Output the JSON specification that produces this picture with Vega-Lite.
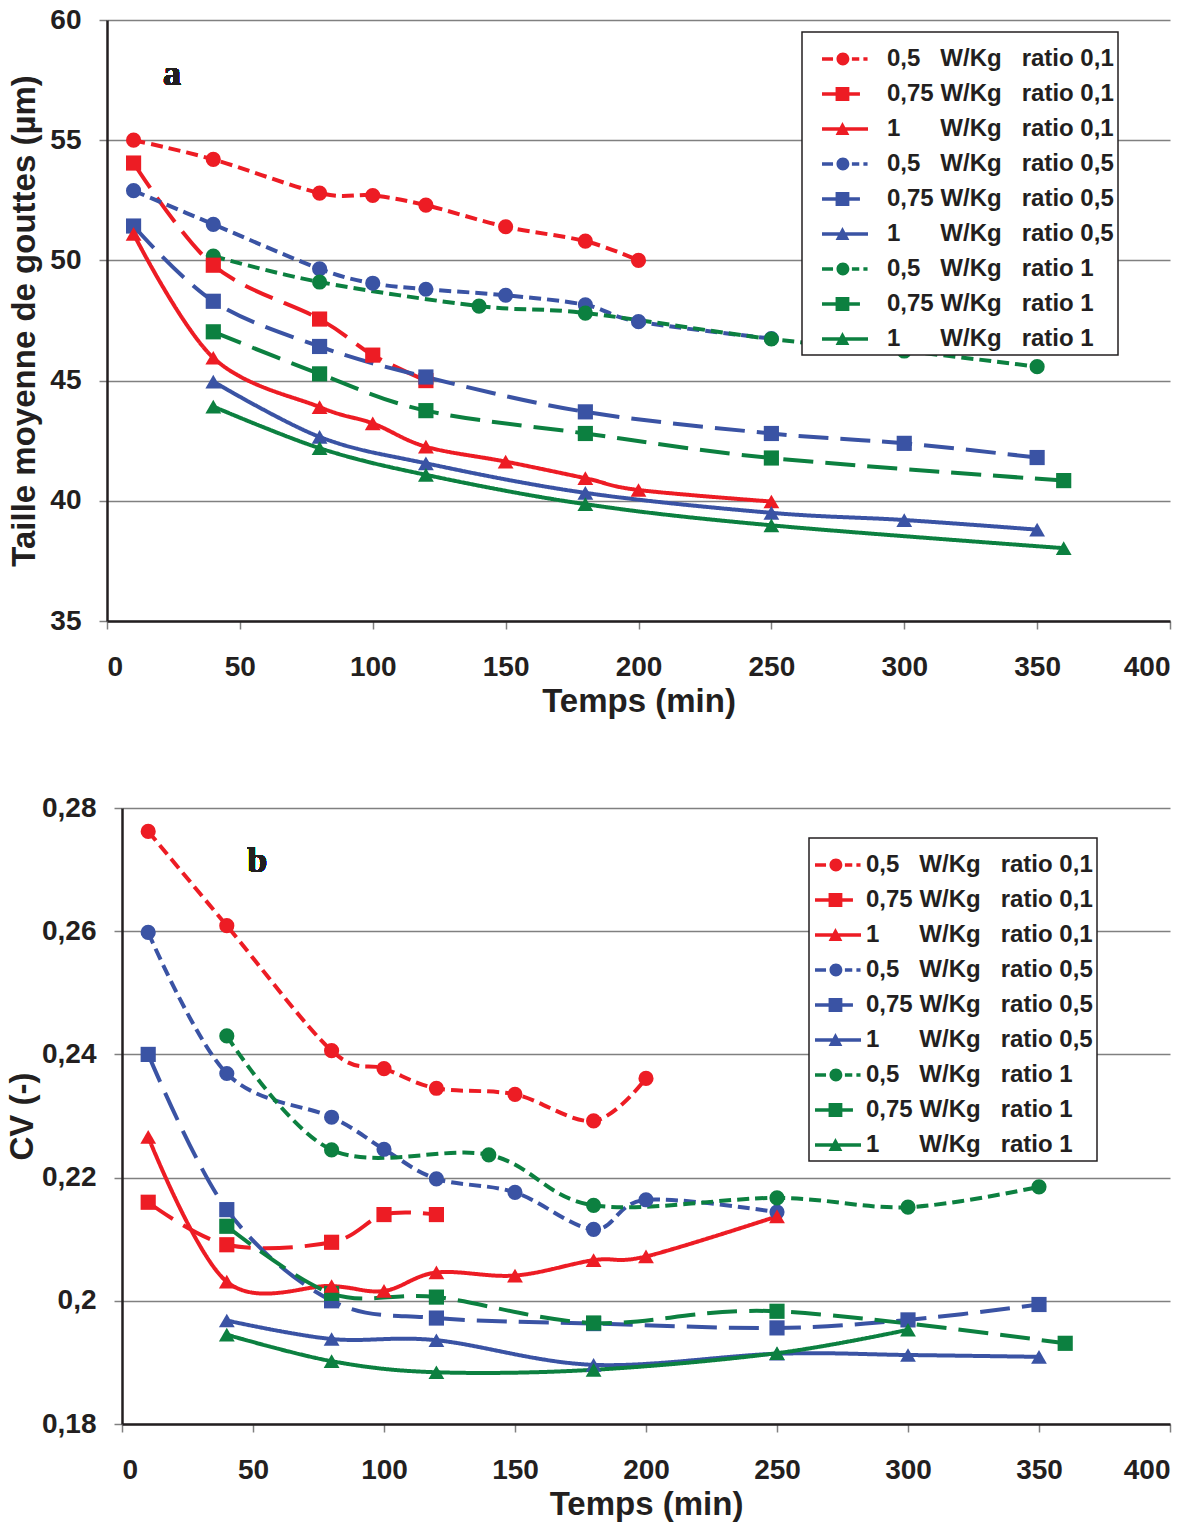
{
  "$schema": "https://vega.github.io/schema/vega-lite/v6.json",
  "background": "white",
  "padding": {"left": 6, "top": 6, "right": 12, "bottom": 4},
  "columns": 1,
  "spacing": 76,
  "resolve": {"scale": {"color": "independent", "strokeDash": "independent"}, "legend": {"color": "independent", "strokeDash": "independent"}},
  "config": {
    "view": {"stroke": null},
    "axis": {
      "labelFont": "Liberation Sans", "labelFontWeight": "bold", "labelFontSize": 28, "labelColor": "#231f20",
      "titleFont": "Liberation Sans", "titleFontWeight": "bold", "titleFontSize": 33, "titleColor": "#231f20",
      "domainColor": "#231f20", "domainWidth": 2.5,
      "tickColor": "#808080", "tickWidth": 1.5, "tickSize": 8,
      "gridColor": "#808080", "gridWidth": 1.5
    },
    "axisX": {"grid": false, "labelPadding": 24, "titlePadding": 4},
    "axisY": {"grid": true, "labelPadding": 18}
  },
  "datasets": {
    "a": [
      {"s": "0,5 W/Kg ratio 0,1", "t": 10, "v": 55.0}, {"s": "0,5 W/Kg ratio 0,1", "t": 40, "v": 54.2}, {"s": "0,5 W/Kg ratio 0,1", "t": 80, "v": 52.8}, {"s": "0,5 W/Kg ratio 0,1", "t": 100, "v": 52.7}, {"s": "0,5 W/Kg ratio 0,1", "t": 120, "v": 52.3}, {"s": "0,5 W/Kg ratio 0,1", "t": 150, "v": 51.4}, {"s": "0,5 W/Kg ratio 0,1", "t": 180, "v": 50.8}, {"s": "0,5 W/Kg ratio 0,1", "t": 200, "v": 50.0},
      {"s": "0,75 W/Kg ratio 0,1", "t": 10, "v": 54.05}, {"s": "0,75 W/Kg ratio 0,1", "t": 40, "v": 49.8}, {"s": "0,75 W/Kg ratio 0,1", "t": 80, "v": 47.56}, {"s": "0,75 W/Kg ratio 0,1", "t": 100, "v": 46.06}, {"s": "0,75 W/Kg ratio 0,1", "t": 120, "v": 45.0},
      {"s": "1 W/Kg ratio 0,1", "t": 10, "v": 51.1}, {"s": "1 W/Kg ratio 0,1", "t": 40, "v": 45.95}, {"s": "1 W/Kg ratio 0,1", "t": 80, "v": 43.9}, {"s": "1 W/Kg ratio 0,1", "t": 100, "v": 43.22}, {"s": "1 W/Kg ratio 0,1", "t": 120, "v": 42.25}, {"s": "1 W/Kg ratio 0,1", "t": 150, "v": 41.63}, {"s": "1 W/Kg ratio 0,1", "t": 180, "v": 40.94}, {"s": "1 W/Kg ratio 0,1", "t": 200, "v": 40.45}, {"s": "1 W/Kg ratio 0,1", "t": 250, "v": 39.97},
      {"s": "0,5 W/Kg ratio 0,5", "t": 10, "v": 52.9}, {"s": "0,5 W/Kg ratio 0,5", "t": 40, "v": 51.5}, {"s": "0,5 W/Kg ratio 0,5", "t": 80, "v": 49.65}, {"s": "0,5 W/Kg ratio 0,5", "t": 100, "v": 49.05}, {"s": "0,5 W/Kg ratio 0,5", "t": 120, "v": 48.8}, {"s": "0,5 W/Kg ratio 0,5", "t": 150, "v": 48.55}, {"s": "0,5 W/Kg ratio 0,5", "t": 180, "v": 48.15}, {"s": "0,5 W/Kg ratio 0,5", "t": 200, "v": 47.45}, {"s": "0,5 W/Kg ratio 0,5", "t": 250, "v": 46.75},
      {"s": "0,75 W/Kg ratio 0,5", "t": 10, "v": 51.43}, {"s": "0,75 W/Kg ratio 0,5", "t": 40, "v": 48.3}, {"s": "0,75 W/Kg ratio 0,5", "t": 80, "v": 46.42}, {"s": "0,75 W/Kg ratio 0,5", "t": 120, "v": 45.15}, {"s": "0,75 W/Kg ratio 0,5", "t": 180, "v": 43.7}, {"s": "0,75 W/Kg ratio 0,5", "t": 250, "v": 42.8}, {"s": "0,75 W/Kg ratio 0,5", "t": 300, "v": 42.39}, {"s": "0,75 W/Kg ratio 0,5", "t": 350, "v": 41.8},
      {"s": "1 W/Kg ratio 0,5", "t": 40, "v": 44.96}, {"s": "1 W/Kg ratio 0,5", "t": 80, "v": 42.66}, {"s": "1 W/Kg ratio 0,5", "t": 120, "v": 41.56}, {"s": "1 W/Kg ratio 0,5", "t": 180, "v": 40.33}, {"s": "1 W/Kg ratio 0,5", "t": 250, "v": 39.5}, {"s": "1 W/Kg ratio 0,5", "t": 300, "v": 39.2}, {"s": "1 W/Kg ratio 0,5", "t": 350, "v": 38.8},
      {"s": "0,5 W/Kg ratio 1", "t": 40, "v": 50.18}, {"s": "0,5 W/Kg ratio 1", "t": 80, "v": 49.1}, {"s": "0,5 W/Kg ratio 1", "t": 140, "v": 48.1}, {"s": "0,5 W/Kg ratio 1", "t": 180, "v": 47.81}, {"s": "0,5 W/Kg ratio 1", "t": 250, "v": 46.73}, {"s": "0,5 W/Kg ratio 1", "t": 300, "v": 46.23}, {"s": "0,5 W/Kg ratio 1", "t": 350, "v": 45.58},
      {"s": "0,75 W/Kg ratio 1", "t": 40, "v": 47.03}, {"s": "0,75 W/Kg ratio 1", "t": 80, "v": 45.28}, {"s": "0,75 W/Kg ratio 1", "t": 120, "v": 43.75}, {"s": "0,75 W/Kg ratio 1", "t": 180, "v": 42.8}, {"s": "0,75 W/Kg ratio 1", "t": 250, "v": 41.78}, {"s": "0,75 W/Kg ratio 1", "t": 360, "v": 40.84},
      {"s": "1 W/Kg ratio 1", "t": 40, "v": 43.92}, {"s": "1 W/Kg ratio 1", "t": 80, "v": 42.19}, {"s": "1 W/Kg ratio 1", "t": 120, "v": 41.08}, {"s": "1 W/Kg ratio 1", "t": 180, "v": 39.86}, {"s": "1 W/Kg ratio 1", "t": 250, "v": 38.98}, {"s": "1 W/Kg ratio 1", "t": 360, "v": 38.03}
    ],
    "b": [
      {"s": "0,5 W/Kg ratio 0,1", "t": 10, "v": 0.2762}, {"s": "0,5 W/Kg ratio 0,1", "t": 40, "v": 0.2609}, {"s": "0,5 W/Kg ratio 0,1", "t": 80, "v": 0.2406}, {"s": "0,5 W/Kg ratio 0,1", "t": 100, "v": 0.2377}, {"s": "0,5 W/Kg ratio 0,1", "t": 120, "v": 0.2345}, {"s": "0,5 W/Kg ratio 0,1", "t": 150, "v": 0.2335}, {"s": "0,5 W/Kg ratio 0,1", "t": 180, "v": 0.2292}, {"s": "0,5 W/Kg ratio 0,1", "t": 200, "v": 0.2361},
      {"s": "0,75 W/Kg ratio 0,1", "t": 10, "v": 0.2160}, {"s": "0,75 W/Kg ratio 0,1", "t": 40, "v": 0.2091}, {"s": "0,75 W/Kg ratio 0,1", "t": 80, "v": 0.2095}, {"s": "0,75 W/Kg ratio 0,1", "t": 100, "v": 0.2140}, {"s": "0,75 W/Kg ratio 0,1", "t": 120, "v": 0.2140},
      {"s": "1 W/Kg ratio 0,1", "t": 10, "v": 0.2266}, {"s": "1 W/Kg ratio 0,1", "t": 40, "v": 0.2031}, {"s": "1 W/Kg ratio 0,1", "t": 80, "v": 0.2024}, {"s": "1 W/Kg ratio 0,1", "t": 100, "v": 0.2016}, {"s": "1 W/Kg ratio 0,1", "t": 120, "v": 0.2046}, {"s": "1 W/Kg ratio 0,1", "t": 150, "v": 0.2041}, {"s": "1 W/Kg ratio 0,1", "t": 180, "v": 0.2066}, {"s": "1 W/Kg ratio 0,1", "t": 200, "v": 0.2072}, {"s": "1 W/Kg ratio 0,1", "t": 250, "v": 0.2137},
      {"s": "0,5 W/Kg ratio 0,5", "t": 10, "v": 0.2598}, {"s": "0,5 W/Kg ratio 0,5", "t": 40, "v": 0.2369}, {"s": "0,5 W/Kg ratio 0,5", "t": 80, "v": 0.2298}, {"s": "0,5 W/Kg ratio 0,5", "t": 100, "v": 0.2246}, {"s": "0,5 W/Kg ratio 0,5", "t": 120, "v": 0.2198}, {"s": "0,5 W/Kg ratio 0,5", "t": 150, "v": 0.2176}, {"s": "0,5 W/Kg ratio 0,5", "t": 180, "v": 0.2116}, {"s": "0,5 W/Kg ratio 0,5", "t": 200, "v": 0.2164}, {"s": "0,5 W/Kg ratio 0,5", "t": 250, "v": 0.2144},
      {"s": "0,75 W/Kg ratio 0,5", "t": 10, "v": 0.2400}, {"s": "0,75 W/Kg ratio 0,5", "t": 40, "v": 0.2148}, {"s": "0,75 W/Kg ratio 0,5", "t": 80, "v": 0.2000}, {"s": "0,75 W/Kg ratio 0,5", "t": 120, "v": 0.1972}, {"s": "0,75 W/Kg ratio 0,5", "t": 180, "v": 0.1963}, {"s": "0,75 W/Kg ratio 0,5", "t": 250, "v": 0.1956}, {"s": "0,75 W/Kg ratio 0,5", "t": 300, "v": 0.1969}, {"s": "0,75 W/Kg ratio 0,5", "t": 350, "v": 0.1994},
      {"s": "1 W/Kg ratio 0,5", "t": 40, "v": 0.1968}, {"s": "1 W/Kg ratio 0,5", "t": 80, "v": 0.1938}, {"s": "1 W/Kg ratio 0,5", "t": 120, "v": 0.1936}, {"s": "1 W/Kg ratio 0,5", "t": 180, "v": 0.1896}, {"s": "1 W/Kg ratio 0,5", "t": 250, "v": 0.1914}, {"s": "1 W/Kg ratio 0,5", "t": 300, "v": 0.1912}, {"s": "1 W/Kg ratio 0,5", "t": 350, "v": 0.1909},
      {"s": "0,5 W/Kg ratio 1", "t": 40, "v": 0.2430}, {"s": "0,5 W/Kg ratio 1", "t": 80, "v": 0.2245}, {"s": "0,5 W/Kg ratio 1", "t": 140, "v": 0.2237}, {"s": "0,5 W/Kg ratio 1", "t": 180, "v": 0.2155}, {"s": "0,5 W/Kg ratio 1", "t": 250, "v": 0.2167}, {"s": "0,5 W/Kg ratio 1", "t": 300, "v": 0.2152}, {"s": "0,5 W/Kg ratio 1", "t": 350, "v": 0.2185},
      {"s": "0,75 W/Kg ratio 1", "t": 40, "v": 0.2121}, {"s": "0,75 W/Kg ratio 1", "t": 80, "v": 0.2012}, {"s": "0,75 W/Kg ratio 1", "t": 120, "v": 0.2006}, {"s": "0,75 W/Kg ratio 1", "t": 180, "v": 0.1964}, {"s": "0,75 W/Kg ratio 1", "t": 250, "v": 0.1983}, {"s": "0,75 W/Kg ratio 1", "t": 360, "v": 0.1931},
      {"s": "1 W/Kg ratio 1", "t": 40, "v": 0.1945}, {"s": "1 W/Kg ratio 1", "t": 80, "v": 0.1902}, {"s": "1 W/Kg ratio 1", "t": 120, "v": 0.1884}, {"s": "1 W/Kg ratio 1", "t": 180, "v": 0.1888}, {"s": "1 W/Kg ratio 1", "t": 250, "v": 0.1915}, {"s": "1 W/Kg ratio 1", "t": 300, "v": 0.1953}
    ]
  },
  "concat": [
    {
      "width": 1048,
      "height": 601,
      "data": {"name": "a"},
      "encoding": {
        "x": {"field": "t", "type": "quantitative", "scale": {"domain": [0, 400], "range": [-15, 1048], "nice": false}, "axis": {"values": [0, 50, 100, 150, 200, 250, 300, 350, 400], "title": "Temps (min)"}},
        "y": {"field": "v", "type": "quantitative", "scale": {"domain": [35, 60], "nice": false, "zero": false}, "axis": {"values": [35, 40, 45, 50, 55, 60], "title": "Taille moyenne de gouttes (µm)", "titlePadding": 8, "offset": 15}}
      },
      "layer": [
        {
          "mark": {"type": "line", "interpolate": "cardinal", "tension": 0, "strokeWidth": 4},
          "encoding": {
            "color": {"field": "s", "type": "nominal",
              "scale": {"domain": ["0,5 W/Kg ratio 0,1", "0,75 W/Kg ratio 0,1", "1 W/Kg ratio 0,1", "0,5 W/Kg ratio 0,5", "0,75 W/Kg ratio 0,5", "1 W/Kg ratio 0,5", "0,5 W/Kg ratio 1", "0,75 W/Kg ratio 1", "1 W/Kg ratio 1"],
                        "range": ["#ed1c24", "#ed1c24", "#ed1c24", "#3a53a4", "#3a53a4", "#3a53a4", "#0c8040", "#0c8040", "#0c8040"]}},
            "strokeDash": {"field": "s", "type": "nominal", "legend": null,
              "scale": {"domain": ["0,5 W/Kg ratio 0,1", "0,75 W/Kg ratio 0,1", "1 W/Kg ratio 0,1", "0,5 W/Kg ratio 0,5", "0,75 W/Kg ratio 0,5", "1 W/Kg ratio 0,5", "0,5 W/Kg ratio 1", "0,75 W/Kg ratio 1", "1 W/Kg ratio 1"],
                        "range": [[12, 6], [30, 12], [1, 0], [12, 6], [30, 12], [1, 0], [12, 6], [30, 12], [1, 0]]}}
          }
        },
        {
          "transform": [{"filter": "indexof(datum.s, '0,5 ') === 0"}],
          "mark": {"type": "point", "filled": true, "size": 230, "opacity": 1, "shape": "circle"},
          "encoding": {
            "color": {"field": "s", "type": "nominal",
              "legend": {"title": null, "orient": "none", "legendX": 680, "legendY": 12, "padding": 4, "strokeColor": "#231f20", "fillColor": "white",
                "symbolSize": 2116, "symbolOffset": 16, "labelOffset": 19, "symbolStrokeWidth": 0, "symbolOpacity": 1,
                "labelFont": "Liberation Sans", "labelFontSize": 24, "labelFontWeight": "bold", "labelColor": "#231f20", "labelLimit": 400, "rowPadding": 0,
                "labelExpr": "replace(replace(replace(datum.label, 'W/Kg ', 'W/Kg\u00a0\u00a0\u00a0'), '0,5 W', '0,5\u00a0\u00a0\u00a0W'), '1 W', '1\u00a0\u00a0\u00a0\u00a0\u00a0\u00a0W')",
                "encode": {
                  "legend": {"update": {"strokeWidth": {"value": 1.5}}},
                  "symbols": {"update": {"shape": {"signal": "indexof(datum.value, '0,75') === 0 ? 'M-1,-0.08H0.65V0.08H-1Z M-0.41,-0.3H0.19V0.3H-0.41Z' : (indexof(datum.value, '0,5 ') === 0 ? 'M-1,-0.08H-0.52V0.08H-1Z M-0.37,0A0.28,0.28,0,1,0,0.19,0A0.28,0.28,0,1,0,-0.37,0Z M0.3,-0.08H0.62V0.08H0.3Z M0.8,-0.08H0.98V0.08H0.8Z' : 'M-1,-0.08H1V0.08H-1Z M-0.41,0.26L-0.11,-0.3L0.19,0.26Z')"}, "size": {"value": 2116}}}}
              }}
          }
        },
        {
          "transform": [{"filter": "indexof(datum.s, '0,75') === 0"}],
          "mark": {"type": "point", "filled": true, "size": 230, "opacity": 1, "shape": "square"},
          "encoding": {"color": {"field": "s", "type": "nominal"}}
        },
        {
          "transform": [{"filter": "indexof(datum.s, '1 ') === 0"}],
          "mark": {"type": "point", "filled": true, "size": 250, "opacity": 1, "shape": "triangle-up"},
          "encoding": {"color": {"field": "s", "type": "nominal"}}
        },
        {
          "mark": {"type": "text", "font": "Liberation Serif", "fontWeight": "bold", "fontSize": 36, "color": "#231f20", "align": "center", "baseline": "alphabetic"},
          "encoding": {
            "x": {"datum": 24.5, "type": "quantitative"},
            "y": {"datum": 57.3, "type": "quantitative"},
            "text": {"value": "a"}
          }
        }
      ]
    },
    {
      "width": 1048,
      "height": 616,
      "data": {"name": "b"},
      "encoding": {
        "x": {"field": "t", "type": "quantitative", "scale": {"domain": [0, 400], "nice": false}, "axis": {"values": [0, 50, 100, 150, 200, 250, 300, 350, 400], "title": "Temps (min)"}},
        "y": {"field": "v", "type": "quantitative", "scale": {"domain": [0.18, 0.28], "nice": false, "zero": false}, "axis": {"values": [0.18, 0.2, 0.22, 0.24, 0.26, 0.28], "title": "CV (-)", "titlePadding": 2, "labelExpr": "replace(toString(round(datum.value*100)/100), '.', ',')"}}
      },
      "layer": [
        {
          "mark": {"type": "line", "interpolate": "cardinal", "tension": 0, "strokeWidth": 4},
          "encoding": {
            "color": {"field": "s", "type": "nominal",
              "scale": {"domain": ["0,5 W/Kg ratio 0,1", "0,75 W/Kg ratio 0,1", "1 W/Kg ratio 0,1", "0,5 W/Kg ratio 0,5", "0,75 W/Kg ratio 0,5", "1 W/Kg ratio 0,5", "0,5 W/Kg ratio 1", "0,75 W/Kg ratio 1", "1 W/Kg ratio 1"],
                        "range": ["#ed1c24", "#ed1c24", "#ed1c24", "#3a53a4", "#3a53a4", "#3a53a4", "#0c8040", "#0c8040", "#0c8040"]}},
            "strokeDash": {"field": "s", "type": "nominal", "legend": null,
              "scale": {"domain": ["0,5 W/Kg ratio 0,1", "0,75 W/Kg ratio 0,1", "1 W/Kg ratio 0,1", "0,5 W/Kg ratio 0,5", "0,75 W/Kg ratio 0,5", "1 W/Kg ratio 0,5", "0,5 W/Kg ratio 1", "0,75 W/Kg ratio 1", "1 W/Kg ratio 1"],
                        "range": [[12, 6], [30, 12], [1, 0], [12, 6], [30, 12], [1, 0], [12, 6], [30, 12], [1, 0]]}}
          }
        },
        {
          "transform": [{"filter": "indexof(datum.s, '0,5 ') === 0"}],
          "mark": {"type": "point", "filled": true, "size": 230, "opacity": 1, "shape": "circle"},
          "encoding": {
            "color": {"field": "s", "type": "nominal",
              "legend": {"title": null, "orient": "none", "legendX": 687, "legendY": 30, "padding": 4, "strokeColor": "#231f20", "fillColor": "white",
                "symbolSize": 2116, "symbolOffset": 2, "labelOffset": 5, "symbolStrokeWidth": 0, "symbolOpacity": 1,
                "labelFont": "Liberation Sans", "labelFontSize": 24, "labelFontWeight": "bold", "labelColor": "#231f20", "labelLimit": 400, "rowPadding": 0,
                "labelExpr": "replace(replace(replace(datum.label, 'W/Kg ', 'W/Kg\u00a0\u00a0\u00a0'), '0,5 W', '0,5\u00a0\u00a0\u00a0W'), '1 W', '1\u00a0\u00a0\u00a0\u00a0\u00a0\u00a0W')",
                "encode": {
                  "legend": {"update": {"strokeWidth": {"value": 1.5}}},
                  "symbols": {"update": {"shape": {"signal": "indexof(datum.value, '0,75') === 0 ? 'M-1,-0.08H0.65V0.08H-1Z M-0.41,-0.3H0.19V0.3H-0.41Z' : (indexof(datum.value, '0,5 ') === 0 ? 'M-1,-0.08H-0.52V0.08H-1Z M-0.37,0A0.28,0.28,0,1,0,0.19,0A0.28,0.28,0,1,0,-0.37,0Z M0.3,-0.08H0.62V0.08H0.3Z M0.8,-0.08H0.98V0.08H0.8Z' : 'M-1,-0.08H1V0.08H-1Z M-0.41,0.26L-0.11,-0.3L0.19,0.26Z')"}, "size": {"value": 2116}}}}
              }}
          }
        },
        {
          "transform": [{"filter": "indexof(datum.s, '0,75') === 0"}],
          "mark": {"type": "point", "filled": true, "size": 230, "opacity": 1, "shape": "square"},
          "encoding": {"color": {"field": "s", "type": "nominal"}}
        },
        {
          "transform": [{"filter": "indexof(datum.s, '1 ') === 0"}],
          "mark": {"type": "point", "filled": true, "size": 250, "opacity": 1, "shape": "triangle-up"},
          "encoding": {"color": {"field": "s", "type": "nominal"}}
        },
        {
          "mark": {"type": "text", "font": "Liberation Serif", "fontWeight": "bold", "fontSize": 36, "color": "#231f20", "align": "center", "baseline": "alphabetic"},
          "encoding": {
            "x": {"datum": 51.6, "type": "quantitative"},
            "y": {"datum": 0.2696, "type": "quantitative"},
            "text": {"value": "b"}
          }
        }
      ]
    }
  ]
}
